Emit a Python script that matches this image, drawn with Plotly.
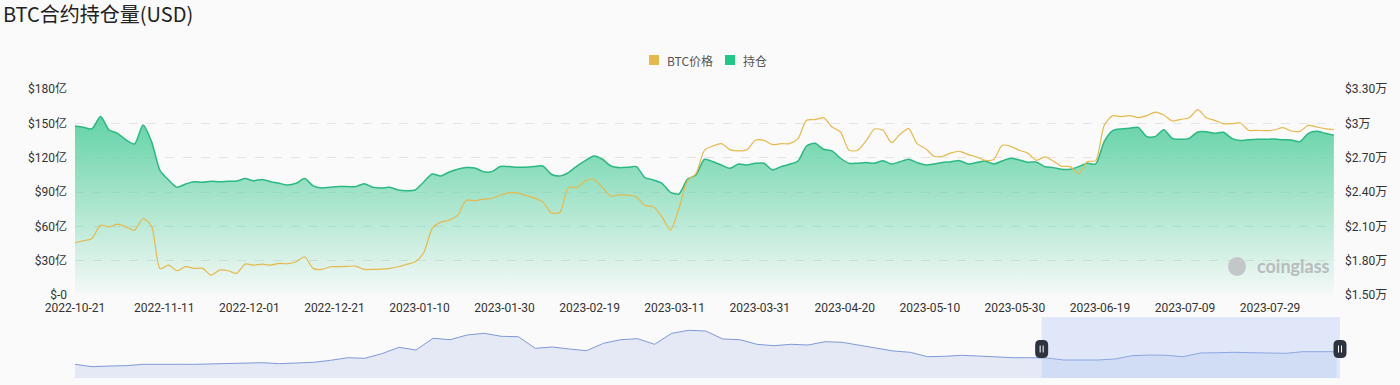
import pandas as pd
import plotly.graph_objects as go

# ---------------- data ----------------
start_date = "2022-10-21"
n_points = 149  # every 2 days
dates = pd.date_range(start_date, periods=n_points, freq="2D")

# open interest, unit: 亿 USD
open_interest = [
    147.7, 146.5, 145.3, 155.9, 144.2, 141.3, 135.5, 132.0, 148.6, 134.0,
    108.7, 100.5, 94.1, 97.0, 99.0, 98.5, 99.4, 99.0, 99.4, 99.6,
    101.7, 99.9, 101.0, 99.0, 97.6, 96.1, 97.6, 101.7, 95.3, 93.5,
    94.1, 94.7, 94.7, 94.7, 97.3, 94.1, 93.5, 94.1, 91.8, 91.2,
    91.8, 98.8, 105.7, 104.0, 107.5, 109.9, 111.3, 111.0, 107.8, 107.8,
    112.2, 112.2, 111.6, 111.6, 112.2, 112.7, 105.5, 104.0, 106.9, 112.7,
    117.4, 121.5, 118.6, 112.7, 111.3, 111.6, 112.2, 102.5, 100.5, 97.6,
    89.7, 88.3, 101.1, 104.9, 118.6, 116.5, 113.6, 110.7, 114.5, 113.6,
    115.1, 115.1, 109.3, 112.2, 114.2, 117.1, 130.2, 132.6, 127.3, 125.9,
    119.5, 115.1, 115.1, 115.7, 115.1, 117.4, 114.5, 116.5, 118.6, 115.7,
    113.6, 114.5, 115.7, 116.5, 117.4, 114.5, 115.7, 117.1, 114.5, 117.1,
    119.5, 118.0, 116.0, 116.2, 112.2, 111.3, 109.9, 109.9, 112.2, 115.1,
    114.5, 134.0, 143.6, 145.1, 145.7, 146.5, 138.4, 138.4, 144.5, 136.9,
    136.1, 136.9, 142.5, 142.7, 141.3, 142.2, 136.9, 134.9, 135.7, 136.1,
    136.1, 136.3, 135.7, 135.5, 134.0, 141.3, 143.1, 141.3, 139.6,
]

# BTC price, USD
btc_price = [
    19561, 19737, 19941, 21104, 20958, 21191, 20958, 20668, 21686, 21017,
    17300, 17616, 17121, 17471, 17325, 17325, 16744, 17180, 17121, 16890,
    17703, 17616, 17703, 17616, 17762, 17733, 17907, 18343, 17325, 17238,
    17471, 17471, 17500, 17529, 17238, 17238, 17267, 17325, 17471, 17674,
    17907, 18692, 20814, 21366, 21540, 21976, 23284, 23226, 23371, 23429,
    23720, 23923, 23923, 23691, 23487, 23139, 22179, 22208, 24388, 24388,
    24970, 25115, 24388, 23633, 23749, 23720, 23575, 22818, 22702, 21830,
    20668, 22557, 24970, 25612, 27644, 28020, 28225, 27702, 27586, 27702,
    28516, 28516, 28138, 28225, 28225, 28661, 30260, 30319, 30494, 29679,
    29243, 27644, 27644, 28457, 29504, 29388, 28312, 29039, 29533, 28225,
    27790, 27121, 27121, 27413, 27557, 27266, 27062, 26772, 26830, 28080,
    27993, 27644, 27413, 26772, 27062, 26713, 26249, 26220, 25612, 26655,
    26742, 29824, 30669, 30582, 30669, 30494, 30669, 30987, 30726, 30203,
    30347, 30494, 31190, 30494, 30260, 29972, 29972, 30028, 29388, 29388,
    29359, 29417, 29621, 29330, 29301, 29824, 29679, 29533, 29446,
]

# overview (data-zoom slider) series, arbitrary units
slider_values = [
    13.7, 11.3, 12, 12.3, 13.7, 14, 13.7, 13.7, 14, 14.7,
    15.3, 15.3, 14.3, 15, 15.7, 17.7, 20.3, 19.7, 24.3, 30.7,
    28, 39.7, 38.3, 43, 44.7, 41.7, 41.3, 29.7, 31, 29,
    27.3, 34.7, 38.3, 39.3, 33.7, 44.7, 47.7, 47, 39, 38.3,
    33.7, 32.3, 33.7, 33, 36.3, 35.7, 33, 30.3, 27, 25.7,
    21.3, 21.7, 22.7, 22, 21, 20.3, 20.3, 20, 18, 18,
    18, 19, 22.3, 23, 22.7, 21.3, 25, 25.3, 25.7, 25.3,
    24.7, 24.7, 26.3, 26.3, 26.3,
]
slider_index = list(range(len(slider_values)))
slider_sel_start = 56.7
slider_sel_end = 74.2

x_tick_labels = [
    "2022-10-21", "2022-11-11", "2022-12-01", "2022-12-21", "2023-01-10",
    "2023-01-30", "2023-02-19", "2023-03-11", "2023-03-31", "2023-04-20",
    "2023-05-10", "2023-05-30", "2023-06-19", "2023-07-09", "2023-07-29",
]
left_tick_vals = [0, 30, 60, 90, 120, 150, 180]
left_tick_text = ["$-0", "$30亿", "$60亿", "$90亿", "$120亿", "$150亿", "$180亿"]
right_tick_vals = [15000, 18000, 21000, 24000, 27000, 30000, 33000]
right_tick_text = ["$1.50万", "$1.80万", "$2.10万", "$2.40万", "$2.70万", "$3万", "$3.30万"]
legend_names = ["BTC价格", "持仓"]

# ---------------- style ----------------
W, H = 1400, 385
ML, MR = 75, 53
PW = W - ML - MR
FONT = "Roboto, 'Noto Sans CJK SC', sans-serif"
CJK = "'Noto Sans CJK SC', sans-serif"
GREEN = "#2bb983"
LEG_GREEN = "#1fc98a"
YELLOW = "#e6b94c"
BG = "#fafafa"


def px_x(px):
    return (px - ML) / PW


def px_y(py):
    return (H - py) / H


fig = go.Figure()

fig.add_trace(go.Scatter(
    x=dates, y=open_interest, name=legend_names[1], mode="lines",
    line=dict(color=GREEN, width=1.5, shape="spline", smoothing=0.7),
    fill="tozeroy",
    fillgradient=dict(type="vertical", start=0, stop=158,
                      colorscale=[[0, "rgba(92,209,162,0.03)"],
                                  [1, "rgba(92,209,162,0.97)"]]),
    xaxis="x", yaxis="y", showlegend=False, hoverinfo="skip",
))
fig.add_trace(go.Scatter(
    x=dates, y=btc_price, name=legend_names[0], mode="lines",
    line=dict(color=YELLOW, width=1.2, shape="spline", smoothing=0.7),
    xaxis="x", yaxis="y2", showlegend=False, hoverinfo="skip",
))

# overview slider
fig.add_trace(go.Scatter(
    x=slider_index, y=slider_values, mode="lines",
    line=dict(color="#8099d8", width=1),
    fill="tozeroy", fillcolor="#e4e9f5",
    xaxis="x3", yaxis="y3", showlegend=False, hoverinfo="skip",
))

main_dom = [px_y(295), px_y(89)]
slider_dom = [px_y(378), px_y(317)]
# slider axis: selection end sits at pixel 1340, axis extends to 1347
slider_range_end = slider_sel_end * (W - MR - ML) / (1340 - ML)

fig.update_layout(
    template="none",
    width=W, height=H, autosize=False,
    margin=dict(l=ML, r=MR, t=0, b=0, pad=0, autoexpand=False),
    paper_bgcolor=BG, plot_bgcolor=BG,
    font=dict(family=FONT, size=12, color="#333"),
    showlegend=False,
    title=dict(text="BTC合约持仓量(USD)", x=3 / W, xref="container", xanchor="left",
               y=1 - 15 / H, yref="container", yanchor="middle",
               font=dict(family=CJK, size=20, color="#222")),
    xaxis=dict(domain=[0, px_x(1336)], type="date", automargin=False,
               range=["2022-10-21", "2023-08-13 12:00"],
               tickvals=x_tick_labels, ticktext=x_tick_labels,
               showgrid=False, zeroline=False, showline=False, ticks="",
               tickfont=dict(size=12, color="#333"), ticklabelstandoff=4,
               anchor="y"),
    yaxis=dict(domain=main_dom, range=[0, 180], tickvals=left_tick_vals, ticktext=left_tick_text,
               automargin=False,
               showgrid=True, gridcolor="#e4e4e4", griddash="dash", gridwidth=1,
               zeroline=False, showline=False, ticks="", ticklabelstandoff=7,
               tickfont=dict(size=12, color="#333")),
    yaxis2=dict(overlaying="y", side="right", anchor="x", range=[15000, 33000],
                automargin=False,
                tickvals=right_tick_vals, ticktext=right_tick_text,
                showgrid=False, zeroline=False, showline=False, ticks="",
                ticklabelstandoff=8, tickfont=dict(size=12, color="#333")),
    xaxis3=dict(domain=[0, 1], range=[0, slider_range_end], anchor="y3", automargin=False,
                showgrid=False, zeroline=False, showline=False, showticklabels=False, ticks=""),
    yaxis3=dict(domain=slider_dom, range=[0, 61], anchor="x3", automargin=False,
                showgrid=False, zeroline=False, showline=False, showticklabels=False, ticks=""),
)

shapes = [
    # slider selection window
    dict(type="rect", xref="x3", yref="paper", x0=slider_sel_start, x1=slider_sel_end,
         y0=slider_dom[0], y1=slider_dom[1], fillcolor="rgba(170,192,245,0.32)",
         line=dict(width=0), layer="above"),
]
handle_path = ("M -6.5 -4 L -6.5 4 Q -6.5 9 -1.5 9 L 1.5 9 Q 6.5 9 6.5 4 "
               "L 6.5 -4 Q 6.5 -9 1.5 -9 L -1.5 -9 Q -6.5 -9 -6.5 -4 Z")
for xa in (slider_sel_start, slider_sel_end):
    shapes.append(dict(type="path", xref="x3", yref="y3", xsizemode="pixel", ysizemode="pixel",
                       xanchor=xa, yanchor=29, path=handle_path,
                       fillcolor="#2e3340", line=dict(width=0), layer="above"))
    for dx in (-1.5, 1.5):
        shapes.append(dict(type="line", xref="x3", yref="y3", xsizemode="pixel", ysizemode="pixel",
                           xanchor=xa, yanchor=29, x0=dx, x1=dx, y0=-3.5, y1=3.5,
                           line=dict(color="#ffffff", width=1), layer="above"))
# custom legend (square swatches)
legend_items = [(legend_names[0], YELLOW, 649, 665), (legend_names[1], LEG_GREEN, 725, 741)]
for name, col, sq_x, tx in legend_items:
    shapes.append(dict(type="rect", xref="paper", yref="paper",
                       x0=px_x(sq_x), x1=px_x(sq_x + 10), y0=px_y(65), y1=px_y(55),
                       fillcolor=col, line=dict(width=0)))
    fig.add_annotation(text=name, xref="paper", yref="paper", x=px_x(tx), y=px_y(60),
                       xanchor="left", yanchor="middle", showarrow=False,
                       font=dict(family=CJK, size=12, color="#555"))
# watermark logo blob
shapes.append(dict(type="circle", xref="paper", yref="paper",
                   x0=px_x(1228), x1=px_x(1246), y0=px_y(276), y1=px_y(257),
                   fillcolor="#c3c7c9", line=dict(width=0), layer="above"))
fig.update_layout(shapes=shapes)

fig.add_annotation(text="<b>coinglass</b>", xref="paper", yref="paper",
                   x=px_x(1293), y=px_y(266), xanchor="center", yanchor="middle",
                   showarrow=False, font=dict(family="Lato, sans-serif", size=18, color="#b8bcbe"))

fig.write_html("out.html", config={"responsive": False, "displayModeBar": False},
               post_script="document.body.style.margin='0';document.body.style.overflow='hidden';")
